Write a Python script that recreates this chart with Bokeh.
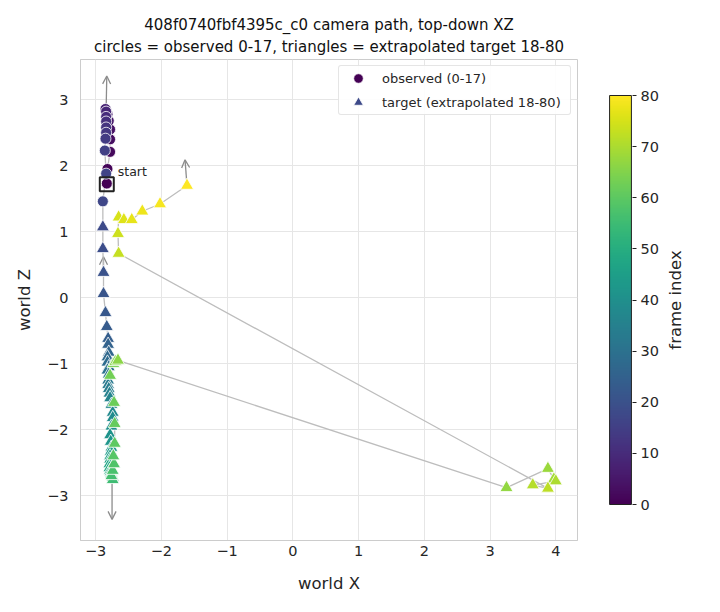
import numpy as np
from bokeh.plotting import figure
from bokeh.models import (Range1d, FixedTicker, LinearColorMapper, Arrow, OpenHead,
                          Title, ColumnDataSource)
from bokeh.transform import linear_cmap
from bokeh.palettes import Viridis256
from bokeh.layouts import row
from bokeh.embed import file_html
from bokeh.resources import INLINE
from bokeh.core.properties import value

# ---------------- data ----------------
obs_idx = list(range(0, 18))
obs_x = [-2.83, -2.82, -2.78, -2.78, -2.78, -2.80, -2.82, -2.84, -2.85,
         -2.84, -2.84, -2.84, -2.84, -2.84, -2.85, -2.86, -2.84, -2.89]
obs_z = [1.73, 1.95, 2.21, 2.40, 2.55, 2.68, 2.78, 2.84, 2.86,
         2.82, 2.74, 2.67, 2.58, 2.50, 2.41, 2.23, 1.88, 1.46]

tgt_idx = list(range(18, 81))
tgt_x = [-2.89, -2.89, -2.88, -2.88, -2.85, -2.83, -2.81, -2.81, -2.80, -2.82,
         -2.82, -2.80, -2.82, -2.80, -2.81, -2.81, -2.80, -2.79, -2.78, -2.76,
         -2.74, -2.74, -2.76, -2.78, -2.77, -2.76, -2.77, -2.78, -2.78, -2.79,
         -2.79, -2.78, -2.77, -2.76, -2.76, -2.75, -2.74, -2.74,
         -2.76, -2.74, -2.72, -2.73, -2.71, -2.71, -2.72, -2.78, -2.73, -2.70, -2.66,
         3.25, 3.88, 3.97, 4.00, 3.65, 3.88,
         -2.65, -2.66, -2.65, -2.57, -2.45, -2.29, -2.02, -1.61]
tgt_z = [1.07, 0.74, 0.38, 0.06, -0.23, -0.44, -0.62, -0.71, -0.83, -0.90,
         -0.98, -1.05, -1.10, -1.16, -1.25, -1.32, -1.38, -1.45, -1.52, -1.62,
         -1.74, -1.82, -1.95, -2.08, -2.18, -2.27, -2.33, -2.40, -2.45, -2.52,
         -2.58, -2.62, -2.64, -2.66, -2.68, -2.70, -2.72, -2.76,
         -2.70, -2.62, -2.52, -2.40, -2.21, -1.91, -1.59, -1.18, -1.00, -0.97, -0.95,
         -2.88, -2.59, -2.75, -2.78, -2.84, -2.89,
         0.67, 0.97, 1.22, 1.18, 1.18, 1.31, 1.42, 1.70]

# heading arrows (start -> end)
arr_x0 = [-2.84, -2.88, -2.75, -1.61]
arr_z0 = [2.86, 0.40, -2.80, 1.70]
arr_x1 = [-2.83, -2.88, -2.75, -1.64]
arr_z1 = [3.36, 0.62, -3.36, 2.09]

start_x = [-2.83]
start_z = [1.72]

x_ticks = [-3, -2, -1, 0, 1, 2, 3, 4]
z_ticks = [-3, -2, -1, 0, 1, 2, 3]
cb_low, cb_high = 0, 80
cb_ticks = [0, 10, 20, 30, 40, 50, 60, 70, 80]

title_1 = "408f0740fbf4395c_c0 camera path, top-down XZ"
title_2 = "circles = observed 0-17, triangles = extrapolated target 18-80"

FONT = "DejaVu Sans"
TXT = "#262626"
H = 612
B_TOP, B_BOT = 59, 72


def lab(t):
    return ("\u2212" + str(abs(t))) if t < 0 else str(t)


# ---------------- main figure ----------------
p = figure(width=590, height=H, output_backend="svg", toolbar_location=None,
           title=None,
           x_range=Range1d(-3.23, 4.33), y_range=Range1d(-3.68, 3.61),
           min_border_left=80, min_border_right=13, min_border_top=B_TOP,
           min_border_bottom=B_BOT)
p.background_fill_color = "white"
p.border_fill_color = "white"
p.outline_line_color = "#cccccc"
p.outline_line_width = 1

t2 = Title(text=title_2, align="center", text_font_size="15px",
           text_font=FONT, text_font_style="normal", text_color="#111111",
           standoff=8)
t1 = Title(text=title_1, align="center", text_font_size="15px",
           text_font=FONT, text_font_style="normal", text_color="#111111",
           standoff=0)
try:
    t1.standoff = -5
except Exception:
    pass
p.add_layout(t2, "above")
p.add_layout(t1, "above")

for ax, ticks in ((p.xaxis[0], x_ticks), (p.yaxis[0], z_ticks)):
    ax.ticker = FixedTicker(ticks=ticks)
    ax.major_label_overrides = {t: lab(t) for t in ticks}
    ax.axis_line_color = "#cccccc"
    ax.major_tick_line_color = None
    ax.minor_tick_line_color = None
    ax.major_tick_out = 0
    ax.major_tick_in = 0
    ax.major_label_text_font = FONT
    ax.major_label_text_font_size = "14.5px"
    ax.major_label_text_color = TXT
    ax.axis_label_text_font = FONT
    ax.axis_label_text_font_size = "16.5px"
    ax.axis_label_text_font_style = "normal"
    ax.axis_label_text_color = TXT
p.xaxis.axis_label = "world X"
p.yaxis.axis_label = "world Z"
p.xaxis.major_label_standoff = 5
p.yaxis.major_label_standoff = 12
p.xaxis.axis_label_standoff = 15
p.yaxis.axis_label_standoff = 10

p.xgrid.ticker = FixedTicker(ticks=x_ticks)
p.ygrid.ticker = FixedTicker(ticks=z_ticks)
p.grid.grid_line_color = "#e6e6e6"
p.grid.grid_line_width = 1

cmap = linear_cmap("idx", Viridis256, cb_low, cb_high)

# path line
p.line(obs_x + tgt_x, obs_z + tgt_z, line_color="#bdbdbd", line_width=1.3)

# arrows
for x0, z0, x1, z1 in zip(arr_x0, arr_z0, arr_x1, arr_z1):
    p.add_layout(Arrow(end=OpenHead(size=8, line_color="#8c8c8c", line_width=1.3),
                       x_start=x0, y_start=z0, x_end=x1, y_end=z1,
                       line_color="#8c8c8c", line_width=1.3, level="underlay"))

obs_src = ColumnDataSource(dict(x=obs_x, z=obs_z, idx=obs_idx))
tgt_src = ColumnDataSource(dict(x=tgt_x, z=tgt_z, idx=tgt_idx))

p.scatter("x", "z", source=obs_src, marker="circle", size=11,
          fill_color=cmap, line_color="white", line_width=0.8,
          legend_label="observed (0-17)")
p.scatter("x", "z", source=tgt_src, marker="triangle", size=13,
          fill_color=cmap, line_color="white", line_width=0.8,
          legend_label="target (extrapolated 18-80)")

# start marker
p.scatter(start_x, start_z, marker="square", size=14, fill_color=None,
          line_color="#222222", line_width=2)
p.text(start_x, start_z, text=["start"], x_offset=11, y_offset=-13,
       text_font=value(FONT), text_font_size="12.5px", text_color=TXT,
       text_align="left", text_baseline="middle")

lg = p.legend[0]
lg.location = "top_right"
lg.margin = 6
lg.padding = 0
lg.spacing = -3
lg.glyph_height = 24
lg.glyph_width = 38
lg.label_height = 24
lg.label_standoff = 5
lg.label_width = 188
lg.label_text_font = FONT
lg.label_text_font_size = "13px"
lg.label_text_color = TXT
lg.border_line_color = "#cccccc"
lg.border_line_width = 1
lg.background_fill_alpha = 0.9
if "border_radius" in lg.properties():
    lg.border_radius = 3

# ---------------- colour bar figure ----------------
px_per = (H - B_TOP - B_BOT - 36 - 36) / (cb_high - cb_low)   # bar spans 409 px
pad = 36 / px_per
cb = figure(width=72, height=H, output_backend="svg", toolbar_location=None,
            title=None, x_range=Range1d(-0.05, 1.05),
            y_range=Range1d(cb_low - pad, cb_high + pad),
            x_axis_location=None, y_axis_location="right",
            min_border_left=18, min_border_right=30, min_border_top=B_TOP,
            min_border_bottom=B_BOT)
cb.grid.visible = False
cb.outline_line_color = None
cb.background_fill_color = "white"
mapper = LinearColorMapper(palette=Viridis256, low=cb_low, high=cb_high)
grad = np.linspace(cb_low, cb_high, 256).reshape(-1, 1)
cb.image(image=[grad], x=0, y=cb_low, dw=1, dh=cb_high - cb_low, color_mapper=mapper)
cb.quad(left=[0], right=[1], bottom=[cb_low], top=[cb_high], fill_color=None,
        line_color="#222222", line_width=1)
ay = cb.yaxis[0]
ay.ticker = FixedTicker(ticks=cb_ticks)
ay.axis_line_color = None
ay.major_tick_line_color = "#222222"
ay.major_tick_out = 4
ay.major_tick_in = 0
ay.minor_tick_line_color = None
ay.major_label_standoff = 4
ay.major_label_text_font = FONT
ay.major_label_text_font_size = "14.5px"
ay.major_label_text_color = TXT

# ---------------- colour bar label (left axis label of a slim figure) ----------------
lf = figure(width=58, height=H, output_backend="svg", toolbar_location=None,
            title=None, x_range=Range1d(0, 1), y_range=Range1d(0, 1),
            x_axis_location=None, y_axis_location="left",
            min_border_left=0, min_border_right=0, min_border_top=B_TOP,
            min_border_bottom=B_BOT)
lf.grid.visible = False
lf.outline_line_color = None
lf.scatter([0.5], [0.5], size=0, alpha=0)
la = lf.yaxis[0]
la.ticker = FixedTicker(ticks=[])
la.axis_line_color = None
la.major_tick_line_color = None
la.minor_tick_line_color = None
la.major_label_text_font_size = "0px"
la.major_label_standoff = 0
la.axis_label = "frame index"
la.axis_label_standoff = 0
la.axis_label_text_font = FONT
la.axis_label_text_font_size = "16.5px"
la.axis_label_text_font_style = "normal"
la.axis_label_text_color = TXT

layout = row(p, cb, lf)
open("out.html", "w").write(file_html(layout, INLINE))
